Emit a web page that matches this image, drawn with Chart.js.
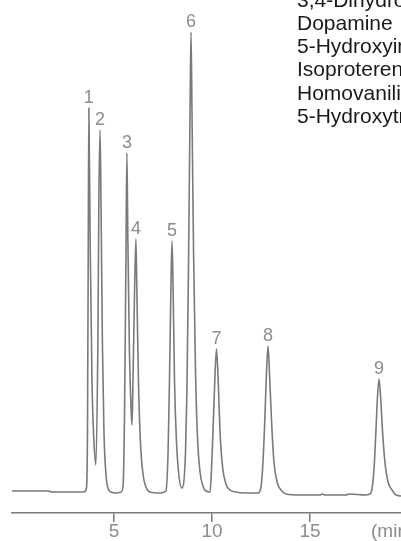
<!DOCTYPE html>
<html>
<head>
<meta charset="utf-8">
<script src="https://cdn.jsdelivr.net/npm/chart.js@4.4.1/dist/chart.umd.min.js"></script>
<style>
  html, body { margin: 0; padding: 0; background: #fff; }
  #wrap { width: 401px; height: 541px; position: relative; }
</style>
</head>
<body>
<div id="wrap"><canvas id="chromatogram"></canvas></div>
<script>
// trace: retention time (min) vs detector response
const retentionTimes = [
  -0.2, 0.71, 1.63, 1.84, 2.24, 3.01, 3.47, 3.60,
  3.65, 3.69, 3.72, 3.78, 3.88, 3.98, 4.08,
  4.18, 4.23, 4.29, 4.34, 4.41, 4.49, 4.59, 4.69, 4.85, 5.10, 5.36, 5.46,
  5.54, 5.61, 5.66, 5.71, 5.79, 5.87, 5.92,
  5.97, 6.05, 6.12, 6.17, 6.25, 6.35, 6.48, 6.63, 6.84, 7.35, 7.65,
  7.76, 7.83, 7.91, 7.96, 8.01, 8.09, 8.19, 8.32, 8.47,
  8.65, 8.72, 8.80, 8.88, 8.93, 8.98, 9.06, 9.16, 9.26, 9.39, 9.54, 9.69, 9.90,
  9.97, 10.05, 10.15, 10.23, 10.31, 10.41, 10.54, 10.71, 10.92, 11.22,
  11.68, 12.35,
  12.50, 12.60, 12.70, 12.78, 12.86, 12.93, 13.04, 13.16, 13.32, 13.52, 13.78,
  14.49, 15.51, 15.61, 15.77, 16.79, 17.04, 17.81, 18.06,
  18.16, 18.27, 18.37, 18.44, 18.52, 18.60, 18.70, 18.83, 18.98, 19.18, 19.39, 19.64
];
const detectorSignal = [
  1, 1, 1, 0, 0, 0, 0, 4,
  60, 250, 384, 260, 110, 50, 27,
  150, 290, 362, 290, 150, 60, 18, 4, 0, -1, 0, 5,
  80, 230, 339, 250, 140, 85, 67,
  110, 200, 253, 200, 110, 50, 18, 5, 0, -1, 1,
  40, 110, 210, 251, 210, 110, 50, 15, 4,
  40, 100, 220, 380, 460, 380, 240, 120, 55, 20, 6, 1, 0,
  20, 60, 115, 143, 115, 60, 25, 8, 2, 0,
  -1, -1,
  5, 30, 75, 120, 146, 120, 70, 30, 10, 2, -2,
  -3, -3, -2, -3, -3, -2, -3, -2,
  3, 25, 65, 95, 113, 95, 60, 28, 10, 2, -3, -4
];

// numbered peaks
const peakNumbers = ["1", "2", "3", "4", "5", "6", "7", "8", "9"];
const peakTimes = [3.72, 4.29, 5.66, 6.12, 7.96, 8.93, 10.23, 12.86, 18.52];
const peakHeights = [384, 362, 339, 253, 251, 460, 143, 146, 113];

const tickValues = [5, 10, 15];
const unitLabel = "(min)";
const unitLabelAt = 18.11;

const compoundNames = [
  "3,4-Dihydroxyphenylacetic acid",
  "Dopamine",
  "5-Hydroxyindoleacetic acid",
  "Isoproterenol",
  "Homovanilic acid",
  "5-Hydroxytryptamine"
];

const INK = "#7a7a7a";
const LABEL = "#8c8c8c";
const NARROW = "'Liberation Sans Narrow', 'Liberation Sans', Arial, sans-serif";

const annotations = {
  id: "annotations",
  afterDraw(chart) {
    const { ctx, scales: { x, y } } = chart;
    ctx.save();

    // peak numbers above each apex
    ctx.fillStyle = LABEL;
    ctx.font = "18px " + NARROW;
    ctx.textAlign = "center";
    ctx.textBaseline = "alphabetic";
    peakNumbers.forEach((n, i) => {
      ctx.fillText(n, x.getPixelForValue(peakTimes[i]), y.getPixelForValue(peakHeights[i]) - 5);
    });

    // time unit next to the axis labels
    ctx.font = "19px " + NARROW;
    ctx.textAlign = "left";
    ctx.textBaseline = "middle";
    ctx.fillText(unitLabel, x.getPixelForValue(unitLabelAt), x.top + 9 + 9.5);

    // compound list (cut by the frame on the right)
    ctx.fillStyle = "#1a1a1a";
    ctx.font = "21px 'Liberation Sans', Arial, sans-serif";
    compoundNames.forEach((name, i) => {
      ctx.fillText(name, 297, 1 + i * 23.2);
    });

    ctx.restore();
  }
};

const ctx = document.getElementById("chromatogram").getContext("2d");
new Chart(ctx, {
  type: "line",
  data: {
    datasets: [{
      data: retentionTimes.map((t, i) => ({ x: t, y: detectorSignal[i] })),
      borderColor: INK,
      borderWidth: 1.6,
      pointRadius: 0,
      fill: false,
      cubicInterpolationMode: "monotone"
    }]
  },
  options: {
    responsive: true,
    maintainAspectRatio: false,
    animation: false,
    layout: { padding: { left: 12, right: 0, top: 0, bottom: 0 } },
    plugins: {
      legend: { display: false },
      tooltip: { enabled: false }
    },
    scales: {
      x: {
        type: "linear",
        min: -0.2,
        max: 19.64,
        afterBuildTicks: (scale) => {
          scale.ticks = tickValues.map((v) => ({ value: v }));
        },
        grid: {
          drawOnChartArea: false,
          drawTicks: true,
          tickLength: 9,
          color: INK,
          lineWidth: 1.5
        },
        border: { color: INK, width: 1.6 },
        ticks: {
          color: LABEL,
          padding: 0,
          maxRotation: 0,
          autoSkip: false,
          font: { family: NARROW, size: 19, lineHeight: 1 }
        }
      },
      y: {
        display: false,
        min: -21,
        max: 492
      }
    }
  },
  plugins: [annotations]
});
</script>
</body>
</html>
